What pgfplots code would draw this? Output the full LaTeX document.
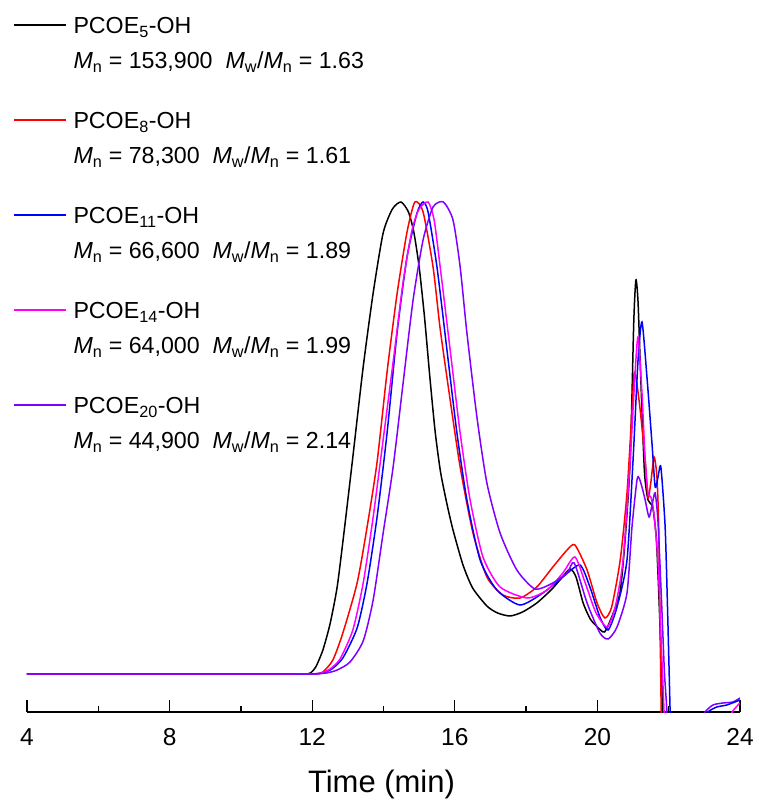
\documentclass[border=0pt]{standalone}
\usepackage{fontspec}
\setmainfont{Liberation Sans}
\usepackage{pgfplots}
\pgfplotsset{compat=1.18}
\definecolor{pblack}{RGB}{0,0,0}
\definecolor{pred}{RGB}{255,0,0}
\definecolor{pblue}{RGB}{0,0,255}
\definecolor{pmagenta}{RGB}{255,0,255}
\definecolor{pviolet}{RGB}{128,0,255}
\newcommand{\rowA}{\rule[-18pt]{0pt}{20pt}}
\newcommand{\rowB}{\rule[-44pt]{0pt}{20pt}}
\newcommand{\Mn}{\textit{M}\textsubscript{n}}
\newcommand{\Mw}{\textit{M}\textsubscript{w}}
\begin{document}
\begin{tikzpicture}
\useasboundingbox (-27pt,-91pt) rectangle (731pt,712pt);
\begin{axis}[
    scale only axis, width=713pt, height=712pt,
    xmin=4, xmax=24, ymin=0, ymax=712,
    axis x line*=bottom, axis y line=none,
    xtick={4,8,...,24}, ytick=\empty,
    minor x tick num=1,
    tick align=inside,
    major tick length=12pt, minor tick length=6pt,
    axis line style={line width=1.3pt},
    every tick/.style={line width=1.3pt, black},
    /pgf/number format/assume math mode=true,
    xticklabel style={font=\fontsize{24.5}{30}\selectfont, inner sep=0pt, yshift=-16pt},
    xlabel={Time (min)},
    x label style={at={(rel axis cs:0.5,0)}, anchor=base, inner sep=0pt,
        yshift=-80pt, xshift=-2pt, font=\fontsize{31}{36}\selectfont},
    every axis plot/.append style={line width=1.5pt, smooth, tension=0.4},
    legend image code/.code={\draw[#1, line width=1.3pt, smooth=false] (0pt,8.5pt) -- (52pt,8.5pt);},
    legend style={draw=none, fill=none, inner xsep=0pt, inner ysep=0pt,
        at={(rel axis cs:-0.0196,0.9760)}, anchor=north west,
        row sep=0pt, column sep=7pt,
        cells={anchor=base west},
        nodes={inner sep=0pt, text depth={}, font=\fontsize{23.2}{28}\selectfont}},
]
% PCOE5-OH
\addplot[pblack, forget plot] coordinates {
(4,38) (6,38) (8,38) (10,38) (11,38) (11.5,38) (11.8,38) (11.95,39)
(12.1,45) (12.3,62) (12.5,88) (12.7,125) (12.9,182) (13.14,255)
(13.43,345) (13.71,419) (13.99,479) (14.25,503) (14.49,510) (14.7,500)
(14.85,480) (15.0,445) (15.15,395) (15.3,335) (15.45,280) (15.6,240)
(15.78,208) (15.95,182) (16.23,147) (16.5,124) (16.9,106) (17.2,99)
(17.55,96) (17.9,100) (18.3,109) (18.7,122) (18.95,132) (19.23,143)
(19.4,135) (19.6,109) (19.8,93) (20.0,85) (20.2,80) (20.4,95) (20.63,119)
(20.77,169) (20.92,252) (21.02,390) (21.08,432) (21.14,410) (21.22,330)
(21.32,240) (21.42,212) (21.55,205) (21.65,175) (21.72,120) (21.8,40)
(21.86,-40)
};
% PCOE8-OH
\addplot[pred, forget plot] coordinates {
(4,38) (6,38) (8,38) (10,38) (11,38) (11.5,38) (11.9,38) (12.1,38)
(12.3,40) (12.58,52) (12.86,79) (13.26,129) (13.54,185) (13.82,250)
(14.1,340) (14.38,418) (14.66,480) (14.88,510) (15.11,500) (15.39,445)
(15.59,383) (15.87,312) (16.15,245) (16.51,179) (16.9,135) (17.35,117)
(17.83,114) (18.3,125) (18.75,145) (19.15,162) (19.37,167) (19.71,142)
(19.99,109) (20.21,94) (20.4,105) (20.64,152) (20.83,219) (20.97,302)
(21.03,339) (21.1,330) (21.2,302) (21.34,252) (21.42,214) (21.5,230)
(21.59,255) (21.67,235) (21.72,185) (21.76,80) (21.79,0) (21.82,-60)
};
% PCOE11-OH
\addplot[pblue, forget plot] coordinates {
(4,38) (6,38) (8,38) (10,38) (11,38) (11.5,38) (12.0,38) (12.3,39)
(12.55,43) (12.86,54) (13.26,84) (13.54,129) (13.82,195) (14.1,279)
(14.38,379) (14.66,455) (14.94,499) (15.11,510) (15.25,500) (15.5,445)
(15.78,362) (16.06,279) (16.34,212) (16.71,152) (17.18,122) (17.83,107)
(18.47,119) (19.03,135) (19.51,147) (19.79,125) (20.07,95) (20.3,82)
(20.55,105) (20.83,152) (21.0,252) (21.14,352) (21.25,390) (21.39,335)
(21.53,269) (21.62,225) (21.7,235) (21.78,245) (21.9,185) (21.97,100)
(22.04,0) (22.08,-60)
};
% PCOE14-OH
\addplot[pmagenta, forget plot] coordinates {
(4,38) (6,38) (8,38) (10,38) (11,38) (11.5,38) (11.95,38) (12.25,39)
(12.5,43) (12.78,53) (13.14,82) (13.43,129) (13.71,195) (14.0,275)
(14.27,350) (14.55,430) (14.8,482) (15.0,503) (15.25,510) (15.42,492)
(15.59,445) (15.87,362) (16.15,279) (16.43,212) (16.79,155) (17.27,125)
(18.03,114) (18.59,122) (19.03,139) (19.37,155) (19.65,130) (19.95,100)
(20.27,85) (20.5,105) (20.72,152) (20.92,252) (21.05,335) (21.14,375)
(21.25,319) (21.34,252) (21.42,219) (21.5,215) (21.58,200) (21.7,150)
(21.8,60) (21.87,0) (21.92,-60)
};
% PCOE20-OH
\addplot[pviolet, forget plot] coordinates {
(4,38) (6,38) (8,38) (10,38) (11,38) (11.5,38) (12.0,38) (12.4,39)
(12.7,42) (13.06,50) (13.43,71) (13.71,112) (13.99,179) (14.27,245)
(14.55,329) (14.83,412) (15.11,472) (15.39,505) (15.68,510) (15.95,492)
(16.15,445) (16.34,379) (16.62,295) (16.9,229) (17.27,179) (17.74,142)
(18.25,123) (18.75,129) (19.15,139) (19.35,149) (19.71,109) (20.07,79)
(20.3,73) (20.55,85) (20.83,119) (20.97,185) (21.11,232) (21.17,234)
(21.25,225) (21.34,212) (21.45,195) (21.55,210) (21.62,219) (21.7,190)
(21.8,110) (21.88,40) (21.95,0) (22.0,-60)
};
% tails after 23 min
\addplot[pviolet, forget plot] coordinates {(22.98,-8) (23.02,0) (23.24,7) (23.52,9) (23.8,10) (24,14)};
\addplot[pblue, forget plot] coordinates {(23.06,-8) (23.1,0) (23.35,5) (23.63,7) (24,12)};
\addplot[pmagenta, forget plot] coordinates {(23.74,-8) (23.78,0) (23.97,8) (24,9)};

\addlegendimage{pblack}
\addlegendentry{\rowA PCOE\textsubscript{5}-OH}
\addlegendimage{legend image code/.code={}}
\addlegendentry{\rowB\Mn{} = 153,900\ \ \Mw/\Mn{} = 1.63}
\addlegendimage{pred}
\addlegendentry{\rowA PCOE\textsubscript{8}-OH}
\addlegendimage{legend image code/.code={}}
\addlegendentry{\rowB\Mn{} = 78,300\ \ \Mw/\Mn{} = 1.61}
\addlegendimage{pblue}
\addlegendentry{\rowA PCOE\textsubscript{11}-OH}
\addlegendimage{legend image code/.code={}}
\addlegendentry{\rowB\Mn{} = 66,600\ \ \Mw/\Mn{} = 1.89}
\addlegendimage{pmagenta}
\addlegendentry{\rowA PCOE\textsubscript{14}-OH}
\addlegendimage{legend image code/.code={}}
\addlegendentry{\rowB\Mn{} = 64,000\ \ \Mw/\Mn{} = 1.99}
\addlegendimage{pviolet}
\addlegendentry{\rowA PCOE\textsubscript{20}-OH}
\addlegendimage{legend image code/.code={}}
\addlegendentry{\rowB\Mn{} = 44,900\ \ \Mw/\Mn{} = 2.14}
\end{axis}
\end{tikzpicture}
\end{document}
